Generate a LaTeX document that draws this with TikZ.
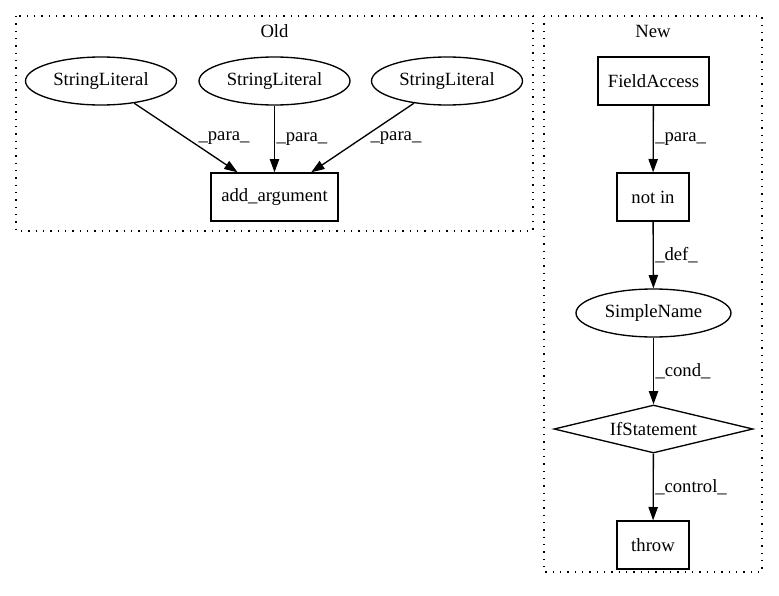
\documentclass[tikz,border=0pt]{standalone}
\usepackage{fontspec}
\setmainfont{Liberation Serif}
\usetikzlibrary{shapes.geometric,arrows.meta}

\begin{document}
\begin{tikzpicture}[x=0.75pt, y=-0.75pt,
    font=\fontsize{14}{16}\selectfont,
    box/.style={draw, line width=1pt, rectangle, minimum height=36pt, inner sep=0pt},
    oval/.style={draw, line width=1pt, ellipse, minimum height=36pt, inner sep=0pt},
    cond/.style={draw, line width=1pt, diamond, shape aspect=4.1, minimum height=36pt, inner sep=0pt},
    flow/.style={line width=1pt, -{Triangle[length=10pt,width=7pt]}},
    lbl/.style={anchor=west, inner sep=0pt},
    cluster/.style={line width=1pt, dash pattern=on 1pt off 4.5pt}]
    \useasboundingbox (0,0) rectangle (779,596);

    % Clusters
    \draw[cluster] (16,16) rectangle (533,231);
    \node[anchor=base] (old) at (274.5,37) {Old};
    \draw[cluster] (544,16) rectangle (762,572);
    \node[anchor=base] (new) at (653,37) {New};

    % Old graph
    \node[oval, minimum width=113.25pt] (lit1) at (101,81) {StringLiteral};
    \node[oval, minimum width=113.25pt] (lit2) at (274.5,81) {StringLiteral};
    \node[oval, minimum width=113.25pt] (lit3) at (447,81) {StringLiteral};
    \node[box, minimum width=95.25pt] (addarg) at (274.5,197) {add\_argument};

    \draw[flow] (lit1) -- (addarg) node[lbl, midway, xshift=9pt] (p1) {\_para\_};
    \draw[flow] (lit2) -- (addarg) node[lbl, midway, xshift=1pt] (p2) {\_para\_};
    \draw[flow] (lit3) -- (addarg) node[lbl, midway, xshift=5.5pt] (p3) {\_para\_};

    % New graph
    \node[box, minimum width=83.25pt] (field) at (653.5,81) {FieldAccess};
    \node[box, minimum width=54pt] (notin) at (653,197) {not in};
    \node[oval, minimum width=116.25pt] (simple) at (653.5,313) {SimpleName};
    \node[cond, minimum width=149.25pt] (ifst) at (653.5,429) {IfStatement};
    \node[box, minimum width=54pt] (throw) at (653,545) {throw};

    \draw[flow] (field) -- (notin) node[lbl, midway, xshift=1pt] (p4) {\_para\_};
    \draw[flow] (notin) -- (simple) node[lbl, midway, xshift=1pt] (d1) {\_def\_};
    \draw[flow] (simple) -- (ifst) node[lbl, midway, xshift=1pt] (c1) {\_cond\_};
    \draw[flow] (ifst) -- (throw) node[lbl, midway, xshift=1pt] (c2) {\_control\_};
\end{tikzpicture}
\end{document}
